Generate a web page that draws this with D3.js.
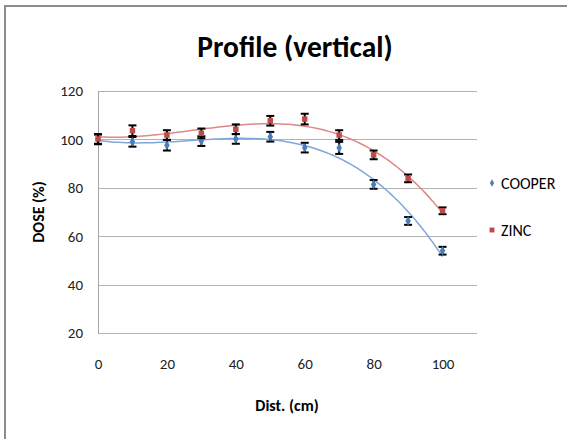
<!DOCTYPE html>
<html><head><meta charset="utf-8">
<script src="https://cdn.jsdelivr.net/npm/d3@7"></script>
<style>
html,body{margin:0;padding:0;background:#fff;}
svg{display:block;}
text{font-family:Carlito,Lato,"Open Sans",sans-serif;}
</style></head>
<body><svg id="c" width="567" height="439"></svg>
<script>
// ---- data ----
const distances = [0,10,20,30,40,50,60,70,80,90,100];
const cooper = [100,99,97.6,99.3,100.2,101.1,96.6,96.5,81.4,66.3,54];
const cooperErr = [2,2,2.2,2,2,2,2,2.5,1.8,1.6,1.6];
const zinc = [100.2,103.6,101.8,102.5,104.2,107.7,108.4,101.8,93.6,83.9,70.5];
const zincErr = [2,2.2,2,2,2,2,2.2,2,1.8,1.6,1.4];
const xTicks = [0,20,40,60,80,100];
const yTicks = [20,40,60,80,100,120];
const seriesNames = ["COOPER","ZINC"];
const trendOrder = 3;

const svg = d3.select("#c");
// outer chart border (right/bottom beyond view)
svg.append("rect").attr("x",5).attr("y",6).attr("width",600).attr("height",460)
  .attr("fill","#fff").attr("stroke","#8c8c8c").attr("stroke-width",2);

const x = d3.scaleLinear().domain([0,110]).range([98,477]);
const y = d3.scaleLinear().domain([20,120]).range([333,91]);

// gridlines
svg.append("g").selectAll("line").data(yTicks).join("line")
  .attr("x1",x(0)).attr("x2",x(110))
  .attr("y1",d=>Math.round(y(d))+0.5).attr("y2",d=>Math.round(y(d))+0.5)
  .attr("stroke","#b3b3b3").attr("stroke-width",1);
// left axis line
svg.append("line").attr("x1",98.5).attr("x2",98.5).attr("y1",y(120)).attr("y2",Math.round(y(20))+1)
  .attr("stroke","#a6a6a6");

// y tick labels
const yAxis = d3.axisLeft(y).tickValues(yTicks).tickSize(0).tickPadding(15);
const gy = svg.append("g").attr("transform","translate(98,0)").call(yAxis);
gy.select(".domain").remove();
gy.selectAll("text").attr("font-size",15).attr("fill","#222").style("font-family","Carlito,Lato,sans-serif");

// x tick labels
const xAxis = d3.axisBottom(x).tickValues(xTicks).tickSize(0).tickPadding(25);
const gx = svg.append("g").attr("transform","translate(0,333)").call(xAxis);
gx.select(".domain").remove();
gx.selectAll("text").attr("font-size",15).attr("fill","#222").style("font-family","Carlito,Lato,sans-serif");

// title
svg.append("text").attr("x",295).attr("y",57).attr("text-anchor","middle")
  .attr("font-size",29.5).attr("font-weight","bold").attr("fill","#000").text("Profile (vertical)");
// axis titles
svg.append("text").attr("x",287).attr("y",411).attr("text-anchor","middle")
  .attr("font-size",16).attr("font-weight","bold").attr("fill","#000").text("Dist. (cm)");
svg.append("text").attr("transform","translate(44,212) rotate(-90)").attr("text-anchor","middle")
  .attr("font-size",16).attr("font-weight","bold").attr("fill","#000").text("DOSE (%)");

// polynomial least squares fit
function polyfit(xs, ys, order){
  const n = order+1;
  const A = Array.from({length:n},()=>new Array(n+1).fill(0));
  xs.forEach((xv,i)=>{
    const t = xv/100;
    for(let r=0;r<n;r++){
      for(let c=0;c<n;c++) A[r][c]+=Math.pow(t,r+c);
      A[r][n]+=ys[i]*Math.pow(t,r);
    }
  });
  for(let i=0;i<n;i++){
    let p=i; for(let k=i+1;k<n;k++) if(Math.abs(A[k][i])>Math.abs(A[p][i])) p=k;
    [A[i],A[p]]=[A[p],A[i]];
    for(let k=i+1;k<n;k++){const f=A[k][i]/A[i][i]; for(let j=i;j<=n;j++) A[k][j]-=f*A[i][j];}
  }
  const coef=new Array(n).fill(0);
  for(let i=n-1;i>=0;i--){let s=A[i][n]; for(let j=i+1;j<n;j++) s-=A[i][j]*coef[j]; coef[i]=s/A[i][i];}
  return xv=>{const t=xv/100; return coef.reduce((s,c,k)=>s+c*Math.pow(t,k),0);};
}

const series = [
  {name:seriesNames[0], vals:cooper, err:cooperErr, marker:"#4a7ebb", line:"#7fa6dc", shape:"diamond"},
  {name:seriesNames[1], vals:zinc, err:zincErr, marker:"#be4b48", line:"#dc8987", shape:"square"}
];

const line = d3.line().x(d=>x(d[0])).y(d=>y(d[1])).curve(d3.curveLinear);
series.forEach(s=>{
  const f = polyfit(distances, s.vals, trendOrder);
  const pts = d3.range(0,100.01,1).map(v=>[v,f(v)]);
  svg.append("path").attr("d",line(pts)).attr("fill","none")
    .attr("stroke",s.line).attr("stroke-width",1.5);
});

series.forEach(s=>{
  const g = svg.append("g");
  distances.forEach((d,i)=>{
    const cx = x(d), y1 = y(s.vals[i]+s.err[i]), y2 = y(s.vals[i]-s.err[i]);
    g.append("line").attr("x1",cx).attr("x2",cx).attr("y1",y1).attr("y2",y2).attr("stroke","#000").attr("stroke-width",2);
    g.append("line").attr("x1",cx-4).attr("x2",cx+4).attr("y1",y1).attr("y2",y1).attr("stroke","#000").attr("stroke-width",2);
    g.append("line").attr("x1",cx-4).attr("x2",cx+4).attr("y1",y2).attr("y2",y2).attr("stroke","#000").attr("stroke-width",2);
  });
  const sym = d3.symbol().type(s.shape==="diamond"?d3.symbolDiamond:d3.symbolSquare).size(s.shape==="diamond"?26:30);
  g.selectAll("path").data(distances).join("path")
    .attr("transform",(d,i)=>`translate(${x(d)},${y(s.vals[i])})`)
    .attr("d",sym).attr("fill",s.marker);
});

// legend
const legY = [183,230];
series.forEach((s,i)=>{
  const sym = d3.symbol().type(s.shape==="diamond"?d3.symbolDiamond:d3.symbolSquare).size(s.shape==="diamond"?16:24);
  svg.append("path").attr("transform",`translate(492,${legY[i]})`).attr("d",sym).attr("fill",s.marker);
  svg.append("text").attr("x",501).attr("y",legY[i]).attr("dy","0.35em")
    .attr("font-size",16).attr("fill","#000").text(s.name);
});
</script></body></html>
